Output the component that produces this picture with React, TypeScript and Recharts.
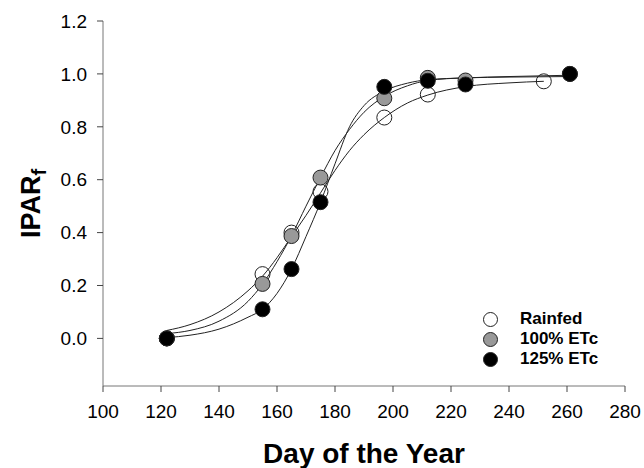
import React from "react";
import { ComposedChart, XAxis, YAxis, Line, Scatter } from "recharts";

// axis ticks
const xTicks = [100, 120, 140, 160, 180, 200, 220, 240, 260, 280];
const yTicks = [0, 0.2, 0.4, 0.6, 0.8, 1.0, 1.2];

// measured points
const rainfedDays = [122, 155, 165, 175, 197, 212, 252];
const rainfedValues = [0, 0.243, 0.4, 0.555, 0.835, 0.922, 0.972];
const etc100Days = [122, 155, 165, 175, 197, 212, 225, 261];
const etc100Values = [0, 0.206, 0.387, 0.608, 0.908, 0.985, 0.975, 1.0];
const etc125Days = [122, 155, 165, 175, 197, 212, 225, 261];
const etc125Values = [0, 0.11, 0.262, 0.515, 0.951, 0.974, 0.96, 1.0];

// fitted curves
const rainfedCurveDays = [122, 130, 140, 150, 155, 160, 165, 170, 175, 180, 185, 190, 197, 205, 212, 225, 240, 252];
const rainfedCurve = [0.03, 0.052, 0.1, 0.18, 0.235, 0.305, 0.385, 0.465, 0.55, 0.635, 0.71, 0.77, 0.835, 0.89, 0.92, 0.952, 0.966, 0.972];
const irrCurveDays = [122, 130, 140, 150, 155, 160, 165, 170, 175, 180, 185, 190, 197, 205, 212, 225, 240, 261];
const etc100Curve = [0.018, 0.03, 0.065, 0.14, 0.205, 0.29, 0.388, 0.5, 0.608, 0.71, 0.79, 0.855, 0.915, 0.955, 0.975, 0.985, 0.988, 0.99];
const etc125Curve = [0.003, 0.012, 0.035, 0.08, 0.11, 0.17, 0.262, 0.385, 0.515, 0.66, 0.8, 0.88, 0.935, 0.965, 0.978, 0.985, 0.99, 0.995];

const zip = (xs: number[], ys: number[]) => xs.map((x, i) => ({ x, y: ys[i] }));

const FONT = "'Liberation Sans', Arial, sans-serif";

const series = [
  { name: "Rainfed", fill: "none", legendFill: "#fff", points: zip(rainfedDays, rainfedValues) },
  { name: "100% ETc", fill: "#999", legendFill: "#999", points: zip(etc100Days, etc100Values) },
  { name: "125% ETc", fill: "#000", legendFill: "#000", points: zip(etc125Days, etc125Values) },
];

const curves = [
  zip(rainfedCurveDays, rainfedCurve),
  zip(irrCurveDays, etc100Curve),
  zip(irrCurveDays, etc125Curve),
];

const dot = (fill: string) => (props: any) => (
  <circle cx={props.cx} cy={props.cy} r={7.5} fill={fill} stroke="#222" strokeWidth={1} />
);

const YLabel = (props: any) => {
  const vb = props.viewBox || { y: 0, height: 0 };
  const cy = vb.y + vb.height / 2;
  return (
    <text
      x={40}
      y={cy}
      transform={`rotate(-90 40 ${cy})`}
      textAnchor="middle"
      fontFamily={FONT}
      fontWeight="bold"
      fontSize={27}
      fill="#000"
    >
      IPAR
      <tspan fontSize={20} dy={6}>f</tspan>
    </text>
  );
};

const XLabel = (props: any) => {
  const vb = props.viewBox || { x: 0, width: 0 };
  return (
    <text
      x={vb.x + vb.width / 2}
      y={463}
      textAnchor="middle"
      fontFamily={FONT}
      fontWeight="bold"
      fontSize={28}
      fill="#000"
    >
      Day of the Year
    </text>
  );
};

const LegendBox = () => (
  <div
    style={{
      position: "absolute",
      left: 482,
      top: 309,
      fontFamily: FONT,
      fontWeight: "bold",
      fontSize: 17,
      color: "#000",
    }}
  >
    {series.map((s) => (
      <div key={s.name} style={{ display: "flex", alignItems: "center", height: 20 }}>
        <svg width={17} height={17}>
          <circle cx={8.5} cy={8.5} r={7} fill={s.legendFill} stroke="#222" strokeWidth={1} />
        </svg>
        <span style={{ marginLeft: 21, lineHeight: "20px", whiteSpace: "nowrap" }}>{s.name}</span>
      </div>
    ))}
  </div>
);

export default function App() {
  return (
    <div style={{ position: "absolute", left: 0, top: 0, width: 644, height: 468, background: "#fff" }}>
      <ComposedChart
        width={644}
        height={468}
        margin={{ top: 21, right: 19, bottom: 0, left: 0 }}
        style={{ fontFamily: FONT }}
      >
        <XAxis
          dataKey="x"
          type="number"
          domain={[100, 280]}
          ticks={xTicks}
          allowDataOverflow
          height={82}
          tickSize={6}
          tickMargin={13}
          stroke="#777"
          tickLine={{ stroke: "#444" }}
          tick={{ fill: "#000", fontSize: 19, fontFamily: FONT }}
          label={<XLabel />}
        />
        <YAxis
          dataKey="y"
          type="number"
          domain={[-0.18, 1.2]}
          ticks={yTicks}
          allowDataOverflow
          width={103}
          tickSize={6}
          tickMargin={10}
          stroke="#777"
          tickLine={{ stroke: "#444" }}
          tickFormatter={(v: number) => v.toFixed(1)}
          tick={{ fill: "#000", fontSize: 19, fontFamily: FONT }}
          label={<YLabel />}
        />
        <YAxis
          yAxisId="right"
          orientation="right"
          type="number"
          domain={[-0.18, 1.2]}
          width={0}
          tick={false}
          tickLine={false}
          stroke="#777"
        />
        {curves.map((c, i) => (
          <Line
            key={`curve-${i}`}
            data={c}
            dataKey="y"
            type="monotone"
            dot={false}
            activeDot={false}
            stroke="#222"
            strokeWidth={1}
            isAnimationActive={false}
            legendType="none"
          />
        ))}
        {series.map((s) => (
          <Scatter
            key={s.name}
            name={s.name}
            data={s.points}
            dataKey="y"
            shape={dot(s.fill)}
            isAnimationActive={false}
          />
        ))}
      </ComposedChart>
      <LegendBox />
    </div>
  );
}
